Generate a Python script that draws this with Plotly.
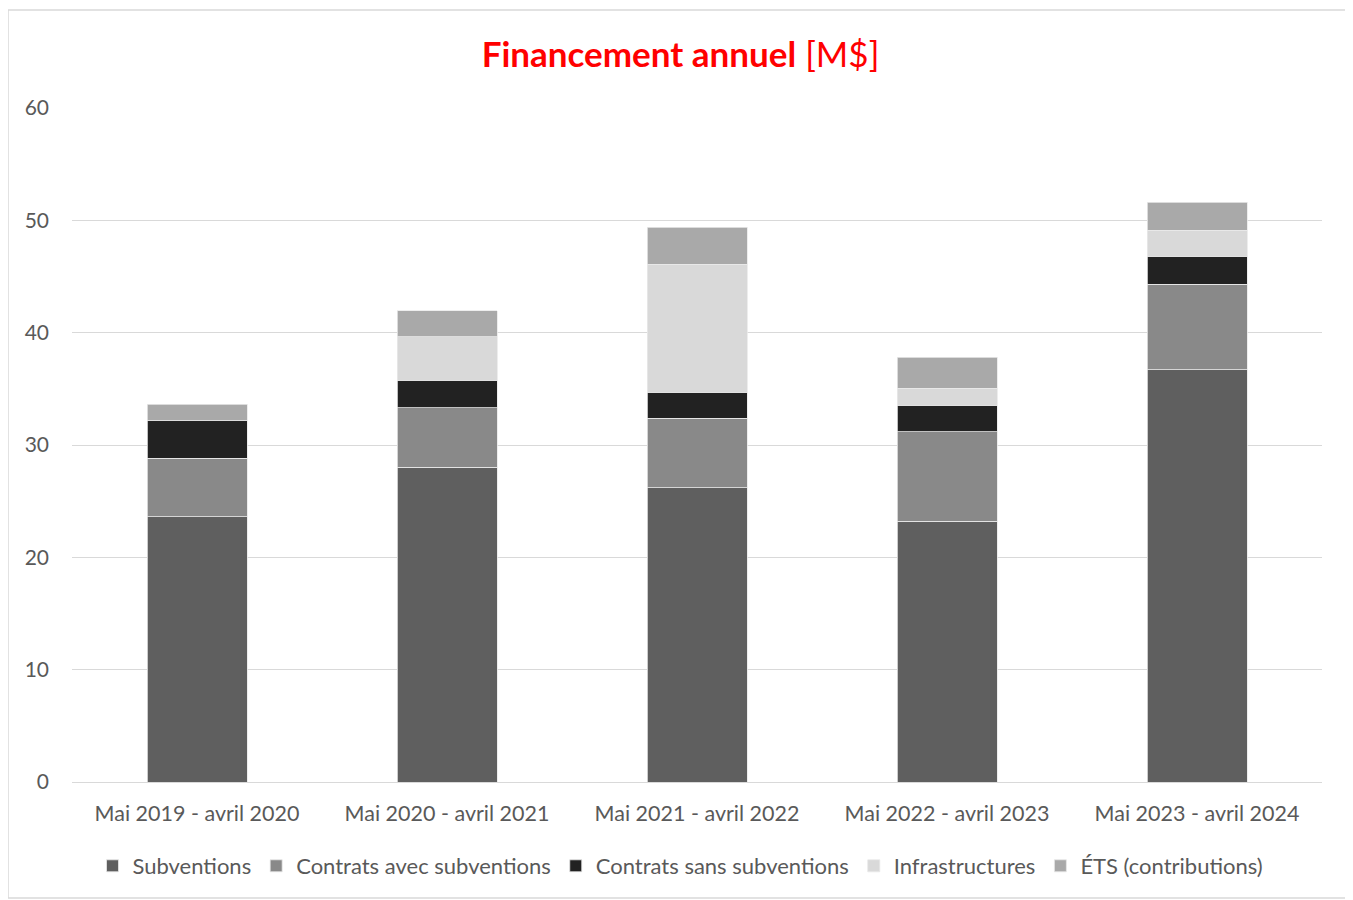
import plotly.graph_objects as go

categories = ["Mai 2019 - avril 2020", "Mai 2020 - avril 2021", "Mai 2021 - avril 2022",
              "Mai 2022 - avril 2023", "Mai 2023 - avril 2024"]
subventions = [23.6, 28.0, 26.2, 23.2, 36.7]
contrats_avec = [5.2, 5.3, 6.2, 8.0, 7.6]
contrats_sans = [3.35, 2.45, 2.3, 2.35, 2.5]
infrastructures = [0.0, 3.9, 11.4, 1.5, 2.3]
ets = [1.5, 2.3, 3.3, 2.75, 2.5]

series = [
    ("Subventions", subventions, "#5f5f5f"),
    ("Contrats avec subventions", contrats_avec, "#898989"),
    ("Contrats sans subventions", contrats_sans, "#222222"),
    ("Infrastructures", infrastructures, "#d9d9d9"),
    ("ÉTS (contributions)", ets, "#a9a9a9"),
]

FONT = "Lato"
TXT = "#595959"

fig = go.Figure()
for name, vals, col in series:
    fig.add_trace(go.Bar(name=name, x=categories, y=vals,
                         marker=dict(color=col, line=dict(color="#e8e8e8", width=0.8))))

# page has an 8px body margin; figure coordinates are offset accordingly
W, H = 1345, 892
L, R, T, B = 64, 31, 100, 118
pw, ph = W - L - R, H - T - B

fig.update_layout(
    width=W, height=H, barmode="stack", bargap=0.6,
    paper_bgcolor="white", plot_bgcolor="white",
    margin=dict(l=L, r=R, t=T, b=B),
    font=dict(family=FONT, color=TXT, size=21),
    title=dict(text="<b>Financement annuel</b> [M$]", x=0.5, xanchor="center",
               y=1 - 47 / H, yanchor="middle",
               font=dict(family=FONT, size=35, color="#ff0000")),
    xaxis=dict(showgrid=False, showline=True, linecolor="#d9d9d9", linewidth=1,
               ticks="", tickfont=dict(size=21.5, color=TXT, family=FONT),
               ticklabelstandoff=12),
    yaxis=dict(range=[0, 60], dtick=10, showgrid=True, gridcolor="#d9d9d9", gridwidth=1,
               zeroline=False, ticks="", tickfont=dict(size=21, color=TXT, family=FONT),
               ticklabelstandoff=22),
    legend=dict(orientation="h", x=0.5, xanchor="center", xref="container",
                y=1 - 858 / H, yref="container", yanchor="middle",
                font=dict(size=22, color=TXT, family=FONT), traceorder="normal",
                itemwidth=30),
    showlegend=True,
)

# outer chart border
fig.add_shape(type="rect", xref="paper", yref="paper",
              x0=(0 - L) / pw, x1=(1343 - L) / pw,
              y0=-(890 - T - ph) / ph, y1=1 + (T - 2) / ph,
              line=dict(color="#d9d9d9", width=1.5), fillcolor="rgba(0,0,0,0)", layer="below")

fig.write_html("out.html")
